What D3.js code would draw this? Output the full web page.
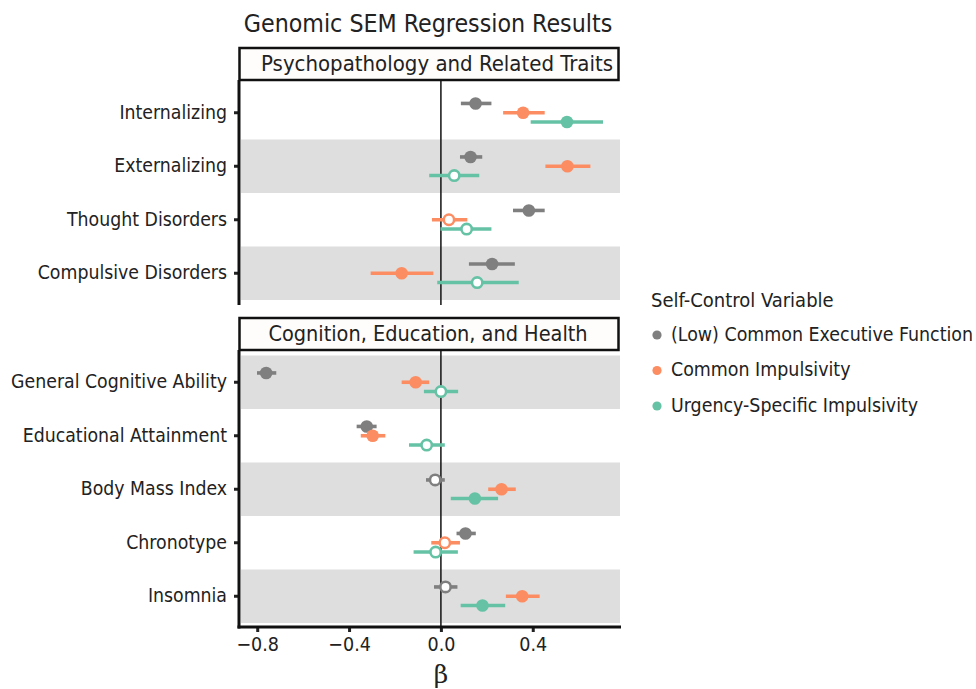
<!DOCTYPE html>
<html>
<head>
<meta charset="utf-8">
<script src="https://cdn.jsdelivr.net/npm/d3@7"></script>
<style>
  html, body { margin: 0; padding: 0; background: #ffffff; }
  svg text { font-family: 'Liberation Sans Narrow', 'DejaVu Sans Condensed', 'Roboto Condensed', 'Arial Narrow', sans-serif; fill: #222; }
</style>
</head>
<body>
<svg id="chart" width="976" height="689"></svg>
<script>
// ---------------- DATA ----------------
const title = "Genomic SEM Regression Results";
const panelTitles = ["Psychopathology and Related Traits", "Cognition, Education, and Health"];
const panel1Categories = ["Internalizing", "Externalizing", "Thought Disorders", "Compulsive Disorders"];
const panel2Categories = ["General Cognitive Ability", "Educational Attainment", "Body Mass Index", "Chronotype", "Insomnia"];
const categories = panel1Categories.concat(panel2Categories);
const seriesNames = ["(Low) Common Executive Function", "Common Impulsivity", "Urgency-Specific Impulsivity"];
const seriesColors = ["#7f7f7f", "#fc8d62", "#66c2a5"];
const legendTitle = "Self-Control Variable";
const xTickValues = [-0.8, -0.4, 0.0, 0.4];
const xLabel = "β";

// estimates, lower and upper CI, significance (filled = 1), in category order
const cefEstimate = [0.151, 0.129, 0.383, 0.223, -0.761, -0.323, -0.025, 0.107, 0.020];
const cefLower    = [0.087, 0.083, 0.314, 0.122, -0.801, -0.367, -0.065, 0.068, -0.030];
const cefUpper    = [0.220, 0.180, 0.452, 0.322, -0.717, -0.280, 0.017, 0.152, 0.072];
const cefSig      = [1, 1, 1, 1, 1, 1, 0, 1, 0];

const ciEstimate = [0.358, 0.551, 0.035, -0.171, -0.110, -0.297, 0.264, 0.017, 0.354];
const ciLower    = [0.271, 0.455, -0.039, -0.306, -0.171, -0.349, 0.206, -0.042, 0.283];
const ciUpper    = [0.452, 0.651, 0.115, -0.033, -0.051, -0.242, 0.326, 0.083, 0.430];
const ciSig      = [1, 1, 0, 1, 1, 1, 1, 0, 1];

const usiEstimate = [0.549, 0.058, 0.112, 0.158, 0.000, -0.062, 0.148, -0.023, 0.181];
const usiLower    = [0.391, -0.051, -0.002, -0.016, -0.074, -0.139, 0.043, -0.119, 0.086];
const usiUpper    = [0.706, 0.167, 0.220, 0.339, 0.075, 0.017, 0.249, 0.074, 0.280];
const usiSig      = [1, 0, 0, 0, 0, 0, 1, 0, 1];

// --------------- BUILD ROWS ---------------
const seriesData = [
  {est: cefEstimate, lo: cefLower, hi: cefUpper, sig: cefSig},
  {est: ciEstimate,  lo: ciLower,  hi: ciUpper,  sig: ciSig},
  {est: usiEstimate, lo: usiLower, hi: usiUpper, sig: usiSig}
];
const rows = [];
seriesNames.forEach((s, si) => {
  categories.forEach((c, ci) => {
    rows.push({series: s, si, category: c, est: seriesData[si].est[ci], lo: seriesData[si].lo[ci], hi: seriesData[si].hi[ci], sig: seriesData[si].sig[ci]});
  });
});

// --------------- LAYOUT ---------------
const svg = d3.select("#chart");
const left = 240, right = 620;
const x = d3.scaleLinear().domain([-0.875, 0.78]).range([left, right]);
const dodge = d3.scalePoint().domain(seriesNames).range([-9.3, 9.3]);
const color = d3.scaleOrdinal().domain(seriesNames).range(seriesColors);

const panels = [
  {title: panelTitles[0], titleX: 437, titleSize: 22, cats: panel1Categories, stripTop: 48, top: 80, bottom: 305, bandRange: [86, 300], shadeOdd: true, xAxis: false},
  {title: panelTitles[1], titleX: 428, titleSize: 21.5, cats: panel2Categories, stripTop: 318, top: 350, bottom: 627, bandRange: [355.5, 623], shadeOdd: false, xAxis: true}
];

svg.append("text")
  .attr("x", 428).attr("y", 32)
  .attr("text-anchor", "middle")
  .style("font-size", "24.7px")
  .text(title);

panels.forEach(p => {
  const y = d3.scaleBand().domain(p.cats).range(p.bandRange).padding(0);
  const g = svg.append("g");

  // panel background
  g.append("rect").attr("x", left).attr("y", p.top).attr("width", right - left).attr("height", p.bottom - p.top).attr("fill", "#ffffff");

  // shaded bands
  g.selectAll("rect.band")
    .data(p.cats.filter((c, i) => p.shadeOdd ? i % 2 === 1 : i % 2 === 0))
    .join("rect")
    .attr("class", "band")
    .attr("x", left + 1).attr("width", right - left - 1)
    .attr("y", d => y(d)).attr("height", y.bandwidth())
    .attr("fill", "#dedede");

  // zero line
  g.append("line")
    .attr("x1", x(0)).attr("x2", x(0))
    .attr("y1", p.top).attr("y2", p.bottom)
    .attr("stroke", "#111").attr("stroke-width", 1.5);

  // strip
  g.append("rect")
    .attr("x", left - 0.5).attr("y", p.stripTop)
    .attr("width", right - left - 1).attr("height", p.top - p.stripTop)
    .attr("fill", "#fffdfb").attr("stroke", "#111").attr("stroke-width", 2.5);
  g.append("text")
    .attr("x", p.titleX).attr("y", (p.stripTop + p.top) / 2 + 1)
    .attr("text-anchor", "middle").attr("dominant-baseline", "middle")
    .style("font-size", p.titleSize + "px")
    .text(p.title);

  // y axis
  const yAxis = d3.axisLeft(y).tickSize(5).tickPadding(7).tickSizeOuter(0);
  const ya = g.append("g").attr("transform", `translate(${left - 1},0)`).call(yAxis);
  ya.select(".domain").remove();
  ya.selectAll(".tick line").attr("stroke", "#222").attr("stroke-width", 3);
  ya.selectAll(".tick text").style("font-size", "19.3px").attr("fill", "#222");
  g.append("line").attr("x1", left - 1).attr("x2", left - 1)
    .attr("y1", p.top).attr("y2", p.bottom + (p.xAxis ? 1.5 : 0))
    .attr("stroke", "#111").attr("stroke-width", 3);

  // x axis
  if (p.xAxis) {
    const xAxis = d3.axisBottom(x).tickValues(xTickValues).tickSize(5).tickPadding(5).tickSizeOuter(0)
      .tickFormat(d => d3.format(".1f")(d).replace("-", "\u2212"));
    const xa = svg.append("g").attr("transform", `translate(0,${p.bottom})`).call(xAxis);
    xa.select(".domain").remove();
    xa.selectAll(".tick line").attr("stroke", "#222").attr("stroke-width", 3);
    xa.selectAll(".tick text").style("font-size", "19.5px").attr("fill", "#222");
    svg.append("line").attr("x1", left - 2.5).attr("x2", right + 1)
      .attr("y1", p.bottom).attr("y2", p.bottom)
      .attr("stroke", "#111").attr("stroke-width", 3);
    svg.append("text").attr("x", x(0)).attr("y", 683)
      .attr("text-anchor", "middle")
      .style("font-family", "'DejaVu Serif', 'Liberation Serif', serif")
      .style("font-size", "25px")
      .text(xLabel);
  }

  // marks
  const pr = rows.filter(r => p.cats.includes(r.category));
  const cy = r => y(r.category) + y.bandwidth() / 2 + dodge(r.series);
  g.selectAll("line.err").data(pr).join("line")
    .attr("class", "err")
    .attr("x1", r => x(r.lo)).attr("x2", r => x(r.hi))
    .attr("y1", cy).attr("y2", cy)
    .attr("stroke", r => color(r.series)).attr("stroke-width", 3.6);
  g.selectAll("circle.pt").data(pr).join("circle")
    .attr("class", "pt")
    .attr("cx", r => x(r.est)).attr("cy", cy)
    .attr("r", r => r.sig ? 6.3 : 5.2)
    .attr("fill", r => r.sig ? color(r.series) : "#ffffff")
    .attr("stroke", r => color(r.series))
    .attr("stroke-width", r => r.sig ? 0 : 2.6);
});

// legend
const legend = svg.append("g");
legend.append("text").attr("x", 651).attr("y", 307).style("font-size", "20px").text(legendTitle);
const li = legend.selectAll("g.item").data(seriesNames).join("g")
  .attr("class", "item")
  .attr("transform", (d, i) => `translate(0,${335 + i * 35.5})`);
li.append("circle").attr("cx", 657).attr("cy", 0).attr("r", 4.6).attr("fill", d => color(d));
li.append("text").attr("x", 671).attr("y", 0).attr("dominant-baseline", "middle")
  .style("font-size", "19.4px").text(d => d);
</script>
</body>
</html>
